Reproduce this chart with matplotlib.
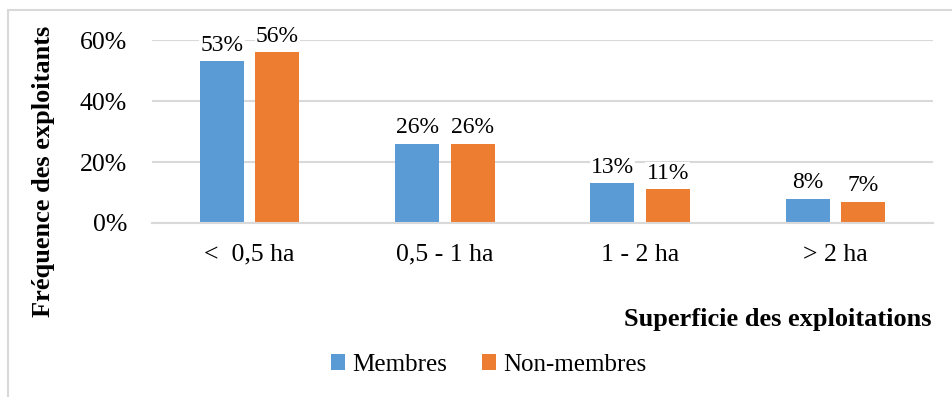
import numpy as np
import matplotlib.pyplot as plt
from matplotlib.patches import Rectangle
from matplotlib.ticker import PercentFormatter

plt.rcParams['font.family'] = ['Liberation Serif', 'DejaVu Serif']

categories = ["<  0,5 ha", "0,5 - 1 ha", "1 - 2 ha", "> 2 ha"]
membres = [53, 26, 13, 8]
non_membres = [56, 26, 11, 7]

blue = "#5B9BD5"
orange = "#ED7D31"
grid_col = "#D9D9D9"

fig = plt.figure(figsize=(9.53, 3.97), dpi=100)
ax = fig.add_axes([0.1595, 0.4383, 0.8195, 0.4607])

x = np.arange(len(categories))
w = 0.225
off = 0.142
b1 = ax.bar(x - off, membres, w, color=blue, label="Membres", zorder=2)
b2 = ax.bar(x + off, non_membres, w, color=orange, label="Non-membres", zorder=2)

for bars, vals in [(b1, membres), (b2, non_membres)]:
    for rect, v in zip(bars, vals):
        ax.annotate(f"{v}%", (rect.get_x() + rect.get_width() / 2, v),
                    xytext=(0, 4), textcoords="offset points",
                    ha="center", va="bottom", fontsize=17, zorder=3,
                    bbox=dict(boxstyle="square,pad=0.05", fc="white", ec="none"),
                    annotation_clip=False)

ax.set_xlim(-0.5, len(categories) - 0.5)
ax.set_ylim(0, 60)
ax.set_yticks([0, 20, 40, 60])
ax.yaxis.set_major_formatter(PercentFormatter(decimals=0))
ax.set_xticks(x)
ax.set_xticklabels(categories)
ax.tick_params(axis="y", length=0, pad=18, labelsize=18.5)
ax.tick_params(axis="x", length=0, pad=15, labelsize=18.5)
ax.grid(axis="y", color=grid_col, linewidth=1.5, zorder=0)
ax.set_axisbelow(True)
for s in ["top", "right", "left"]:
    ax.spines[s].set_visible(False)
ax.spines["bottom"].set_color(grid_col)
ax.spines["bottom"].set_linewidth(1.5)

fig.text(0.046, 0.569, "Fréquence des exploitants", rotation=90,
         ha="center", va="center", fontsize=19, fontweight="bold")
fig.text(0.977, 0.194, "Superficie des exploitations",
         ha="right", va="center", fontsize=19, fontweight="bold")

fig.legend(handles=[b1, b2], loc="center", bbox_to_anchor=(0.513, 0.081),
           ncol=2, frameon=False, fontsize=18, handlelength=0.55,
           handleheight=0.55, handletextpad=0.3, columnspacing=1.4)

# chart frame (runs past the right and bottom edges)
fig.patches.append(Rectangle((8 / 953, -0.05), 1.0, 1 - 10 / 397 + 0.05,
                             transform=fig.transFigure, fill=False,
                             edgecolor=grid_col, linewidth=1.5))

fig.savefig("out.png", dpi=100)
